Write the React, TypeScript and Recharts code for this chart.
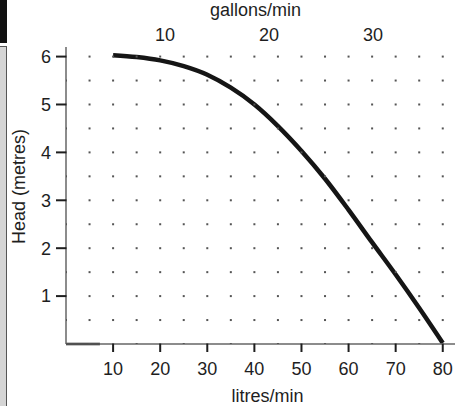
import { ComposedChart, Line, Scatter, XAxis, YAxis, ReferenceLine } from "recharts";

// pump curve
const litres = [10, 15, 20, 25, 30, 35, 40, 45, 50, 55, 60, 65, 70, 75, 80];
const head = [6.03, 5.99, 5.92, 5.8, 5.62, 5.35, 5.0, 4.55, 4.03, 3.45, 2.8, 2.12, 1.45, 0.75, 0.02];

const litreTicks = [10, 20, 30, 40, 50, 60, 70, 80];
const headTicks = [1, 2, 3, 4, 5, 6];
const gallonTicks = [10, 20, 30];

// dotted grid positions
const gridLitres = [0, 5, 10, 15, 20, 25, 30, 35, 40, 45, 50, 55, 60, 65, 70, 75, 80];
const gridHead = [0, 0.5, 1, 1.5, 2, 2.5, 3, 3.5, 4, 4.5, 5, 5.5, 6];

const curve = litres.map((l, i) => ({ litres: l, head: head[i] }));
const gridDots = gridLitres.flatMap((l) => gridHead.map((h) => ({ litres: l, head: h })));
const gallonAnchors = gallonTicks.map((g) => ({ gallons: g, head: 0 }));

const font = "'Liberation Sans', Arial, sans-serif";
const ink = "#1e1e1e";
const fs = 18;

const GridDot = (props: any) => <rect x={props.cx - 1} y={props.cy - 1} width={2} height={2} fill="#555" />;
const Nothing = () => <g />;

export default function App() {
  return (
    <div style={{ position: "absolute", left: 0, top: 0, width: 455, height: 406, background: "#fff", fontFamily: font }}>
      <div style={{ position: "absolute", left: 0, top: 0, width: 7, height: 43, background: "#111" }} />
      <div
        style={{
          position: "absolute",
          left: 0,
          top: 46,
          width: 6,
          height: 360,
          background: "#d5d5d5",
          borderTop: "1px solid #555",
          borderRight: "1px solid #555",
        }}
      />
      <ComposedChart width={455} height={406} margin={{ top: 0, right: 0, bottom: 0, left: 0 }} style={{ position: "absolute", left: 0, top: 0 }}>
        <XAxis
          xAxisId="l"
          type="number"
          dataKey="litres"
          domain={[0, 82.6]}
          ticks={litreTicks}
          allowDataOverflow
          height={62}
          axisLine={{ stroke: "#666", strokeWidth: 1.5 }}
          tickLine={{ stroke: ink, strokeWidth: 2 }}
          tickSize={8}
          tickMargin={10}
          tick={{ fill: ink, fontSize: fs, fontFamily: font }}
          label={{ value: "litres/min", position: "insideBottom", offset: 4, dx: 7, fill: ink, fontSize: fs, fontFamily: font }}
        />
        <XAxis
          xAxisId="g"
          orientation="top"
          type="number"
          dataKey="gallons"
          domain={[0.48, 37.88]}
          ticks={gallonTicks}
          allowDataOverflow
          height={47}
          axisLine={false}
          tickLine={false}
          tickSize={0}
          tickMargin={6}
          tick={{ fill: ink, fontSize: fs, fontFamily: font }}
          label={{ value: "gallons/min", position: "insideTop", offset: 3, dx: -5, fill: ink, fontSize: fs, fontFamily: font }}
        />
        <YAxis
          type="number"
          dataKey="head"
          domain={[0, 6.2]}
          ticks={headTicks}
          allowDataOverflow
          width={66}
          axisLine={{ stroke: "#666", strokeWidth: 1.5 }}
          tickLine={{ stroke: ink, strokeWidth: 2 }}
          tickSize={10}
          tickMargin={5}
          tick={{ fill: ink, fontSize: fs, fontFamily: font }}
          label={{ value: "Head (metres)", angle: -90, position: "center", dx: -14, dy: -9, fill: ink, fontSize: fs, fontFamily: font }}
        />
        <Scatter xAxisId="g" data={gallonAnchors} dataKey="head" shape={Nothing} isAnimationActive={false} />
        <Scatter xAxisId="l" data={gridDots} dataKey="head" shape={GridDot} isAnimationActive={false} />
        <ReferenceLine xAxisId="l" segment={[{ x: 0, y: 0 }, { x: 7.2, y: 0 }]} stroke="#111" strokeWidth={2.5} />
        <Line
          xAxisId="l"
          data={curve}
          dataKey="head"
          type="monotone"
          stroke="#151515"
          strokeWidth={4.5}
          dot={false}
          isAnimationActive={false}
        />
      </ComposedChart>
    </div>
  );
}
